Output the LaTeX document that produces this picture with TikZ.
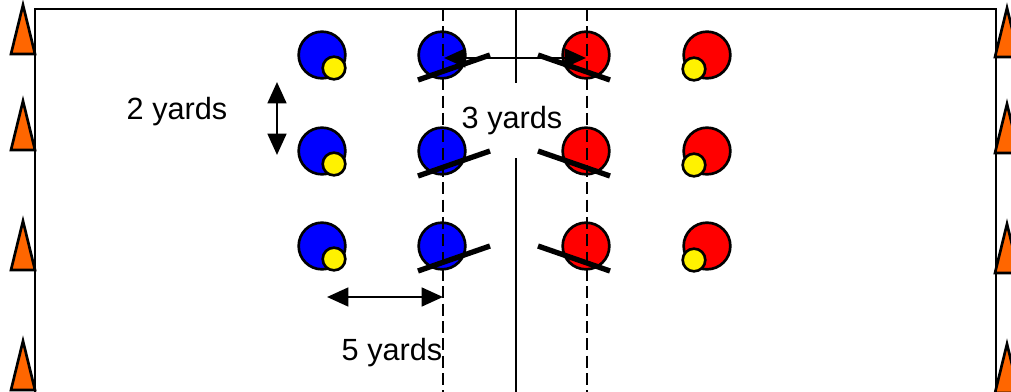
\documentclass[tikz,border=0pt]{standalone}
\usepackage{fontspec}
\setmainfont{Liberation Sans}
\usetikzlibrary{arrows.meta,calc}
\definecolor{coneorange}{RGB}{255,102,0}
\tikzset{
  player/.style={draw, circle, line width=2pt, minimum size=35pt, inner sep=0pt},
  ball/.style={draw, circle, fill=yellow, line width=2pt, minimum size=17pt, inner sep=0pt},
  cone/.style={draw, fill=coneorange, line width=2pt},
  stick/.style={line width=4pt},
  lbl/.style={font=\fontsize{23}{28}\selectfont, inner sep=0pt},
  measure/.style={{Triangle[length=16pt,width=14pt]}-{Triangle[length=16pt,width=14pt]}, line width=2pt}
}

\begin{document}
\begin{tikzpicture}[x=0.75pt, y=-0.75pt]
  \useasboundingbox (0,0) rectangle (1011,392);

  % field
  \draw[line width=2pt] (35,400) -- (35,9) -- (996,9) -- (996,400);

  % cones
  \foreach \y in {54,150,270,390}
    \draw[cone] (11,\y) -- (35,\y) -- (23,{\y-49}) -- cycle;
  \foreach \y in {57,153,273,393}
    \draw[cone] (995,\y) -- (1019,\y) -- (1007,{\y-49}) -- cycle;

  % players
  \foreach \r/\y in {1/55, 2/151, 3/246} {
    \node[player, fill=blue] (b1\r) at (322,\y) {};
    \node[player, fill=blue] (b2\r) at (442,\y) {};
    \node[player, fill=red] (r1\r) at (586,\y) {};
    \node[player, fill=red] (r2\r) at (707,\y) {};
    \node[ball] (yb\r) at ($(b1\r)+(12,13)$) {};
    \node[ball] (yr\r) at ($(r2\r)+(-13,14)$) {};
  }

  % lines
  \draw[line width=2pt, dash pattern=on 9pt off 4pt] (443,9) -- (443,400);
  \draw[line width=2pt, dash pattern=on 9pt off 4pt] (587,9) -- (587,400);

  \node[lbl, minimum height=56pt] (lbl3) at (512,120.5) {3 yards};
  \coordinate (ctop) at (516,9);
  \coordinate (cbot) at (516,400);
  \draw[line width=2pt] (ctop) -- (ctop |- lbl3.north) (cbot |- lbl3.south) -- (cbot);

  % sticks
  \foreach \r in {1,2,3} {
    \draw[stick] ($(b2\r)+(-24,25)$) -- ($(b2\r)+(48,0)$);
    \draw[stick] ($(r1\r)+(-48,0)$) -- ($(r1\r)+(24,25)$);
  }

  % distances
  \coordinate (threel) at (444,58);
  \coordinate (threer) at (586,58);
  \coordinate (twotop) at (277,82);
  \coordinate (twobot) at (277,155);
  \coordinate (fivel) at (327,297);
  \coordinate (fiver) at (443,297);
  \draw[measure] (threel) -- (threer);
  \draw[measure] (twotop) -- (twobot);
  \draw[measure] (fivel) -- (fiver);

  \node[lbl, anchor=base] (lbl2) at (177,120) {2 yards};
  \node[lbl, anchor=base] (lbl5) at (392,360) {5 yards};
\end{tikzpicture}
\end{document}
